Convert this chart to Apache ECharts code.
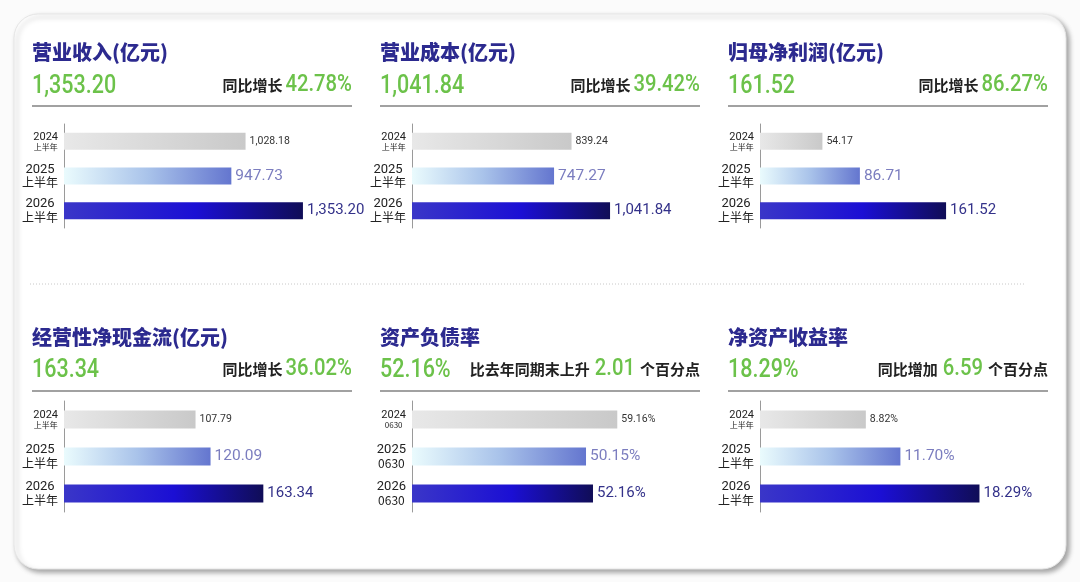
<!DOCTYPE html>
<html>
<head>
<meta charset="utf-8">
<script src="https://cdn.jsdelivr.net/npm/echarts@6/dist/echarts.min.js"></script>
<style>
  html, body { margin: 0; padding: 0; background: #fbfbfb; }
  #main { width: 1080px; height: 582px; }
</style>
</head>
<body>
<div id="main"></div>
<script>
// 数据
var panelTitles = ['营业收入(亿元)', '营业成本(亿元)', '归母净利润(亿元)', '经营性净现金流(亿元)', '资产负债率', '净资产收益率'];
var headline = ['1,353.20', '1,041.84', '161.52', '163.34', '52.16%', '18.29%'];
var changeLead = ['同比增长', '同比增长', '同比增长', '同比增长', '比去年同期末上升', '同比增加'];
var changeValue = ['42.78%', '39.42%', '86.27%', '36.02%', '2.01', '6.59'];
var changeTail = ['', '', '', '', '个百分点', '个百分点'];

var periodsHalf = ['2024\n上半年', '2025\n上半年', '2026\n上半年'];
var periodsDate = ['2024\n0630', '2025\n0630', '2026\n0630'];

var revenue = [1028.18, 947.73, 1353.20];
var cost = [839.24, 747.27, 1041.84];
var netProfit = [54.17, 86.71, 161.52];
var cashFlow = [107.79, 120.09, 163.34];
var debtRatio = [59.16, 50.15, 52.16];
var roe = [8.82, 11.70, 18.29];

var panelValues = [revenue, cost, netProfit, cashFlow, debtRatio, roe];
var panelPeriods = [periodsHalf, periodsHalf, periodsHalf, periodsHalf, periodsDate, periodsHalf];
var isPercent = [false, false, false, false, true, true];
var axisMax = [1631, 1515, 250, 236, 83, 24];

var numFont = "'Roboto', sans-serif";
var cjkFont = "'Noto Sans CJK SC', sans-serif";
var titleColor = '#2c2a8f';
var green = '#6cc24a';

// 布局
var colX = [32, 380, 728];
var panelW = 320;
var rowTitleY = [52, 337];
var rowValueY = [87, 371];
var rowLineY = [106, 391];
var rowGridTop = [124, 401];
var rowGridH = [104, 111];
var numScale = 0.86;

var measureCtx = document.createElement('canvas').getContext('2d');
function textW(font, s) {
  measureCtx.font = font;
  return measureCtx.measureText(s).width;
}

function grad(stops) {
  return new echarts.graphic.LinearGradient(0, 0, 1, 0, stops);
}
var barColors = [
  grad([{offset: 0, color: '#e8e8e8'}, {offset: 1, color: '#c9c9c9'}]),
  grad([{offset: 0, color: '#eafbfd'}, {offset: 0.5, color: '#a9c3ea'}, {offset: 1, color: '#6476cf'}]),
  grad([{offset: 0, color: '#3a36c8'}, {offset: 0.55, color: '#1b0fd4'}, {offset: 1, color: '#100d57'}])
];
var barLabels = [
  {fontSize: 10.5, color: '#333'},
  {fontSize: 15.5, color: '#7b7dbf'},
  {fontSize: 15, color: '#34328a'}
];

function fmt(v, pct) {
  if (pct) return v.toFixed(2) + '%';
  return v.toLocaleString('en-US', {minimumFractionDigits: 2, maximumFractionDigits: 2});
}

var grids = [], xAxes = [], yAxes = [], series = [];
var graphics = [];

// 卡片背景
graphics.push({
  type: 'rect', z: -10,
  shape: {x: 14, y: 14, width: 1052, height: 555, r: 24},
  style: {fill: '#fff', stroke: '#e6e6e6', lineWidth: 1,
    shadowBlur: 5, shadowColor: 'rgba(0,0,0,0.35)', shadowOffsetX: 3, shadowOffsetY: 3}
});
// 分隔虚线
graphics.push({
  type: 'line', z: -5,
  shape: {x1: 30, y1: 284, x2: 1025, y2: 284},
  style: {stroke: '#c8c8c8', lineWidth: 1, lineDash: [1, 2]}
});

var leadFont = 'bold 15px ' + cjkFont;
var pctFont = '500 23px ' + numFont;

for (var p = 0; p < 6; p++) {
  var col = p % 3, row = Math.floor(p / 3);
  var x0 = colX[col];
  var pct = isPercent[p];
  var vy = rowValueY[row];

  // 标题
  graphics.push({
    type: 'text', z: 10, x: x0, y: rowTitleY[row],
    style: {text: panelTitles[p], fill: titleColor, font: '900 20px ' + cjkFont, textVerticalAlign: 'middle'}
  });
  // 主数值
  graphics.push({
    type: 'text', z: 10, x: x0, y: vy, scaleX: numScale,
    style: {text: headline[p], fill: green, font: '500 25px ' + numFont, textVerticalAlign: 'middle'}
  });
  // 同比 (从右往左排)
  var cursor = x0 + panelW;
  if (changeTail[p]) {
    graphics.push({
      type: 'text', z: 10, x: cursor, y: vy - 2,
      style: {text: changeTail[p], fill: '#222', font: leadFont, textAlign: 'right', textVerticalAlign: 'middle'}
    });
    cursor -= textW(leadFont, changeTail[p]) + 5;
  }
  graphics.push({
    type: 'text', z: 10, x: cursor, y: vy - 2, scaleX: 0.88,
    style: {text: changeValue[p], fill: green, font: pctFont, textAlign: 'right', textVerticalAlign: 'middle'}
  });
  cursor -= textW(pctFont, changeValue[p]) * 0.88 + (changeTail[p] ? 5 : 3);
  graphics.push({
    type: 'text', z: 10, x: cursor, y: vy - 2,
    style: {text: changeLead[p], fill: '#222', font: leadFont, textAlign: 'right', textVerticalAlign: 'middle'}
  });
  // 分隔线
  graphics.push({
    type: 'line', z: 10,
    shape: {x1: x0, y1: rowLineY[row], x2: x0 + panelW, y2: rowLineY[row]},
    style: {stroke: '#444', lineWidth: 1.2}
  });

  grids.push({left: x0 + 32, top: rowGridTop[row], width: 288, height: rowGridH[row]});
  xAxes.push({
    type: 'value', gridIndex: p, min: 0, max: axisMax[p],
    show: false
  });
  yAxes.push({
    type: 'category', gridIndex: p, inverse: true,
    data: panelPeriods[p],
    axisLine: {lineStyle: {color: '#9a9a9a', width: 1}},
    axisTick: {show: false},
    axisLabel: {
      margin: 6,
      formatter: function (val, idx) {
        var parts = val.split('\n');
        var k = idx === 0 ? '0' : '1';
        return '{y' + k + '|' + parts[0] + '}\n{s' + k + '|' + parts[1] + '}';
      },
      rich: {
        y0: {fontSize: 11, color: '#222', fontFamily: numFont, align: 'center', lineHeight: 11},
        s0: {fontSize: 8, color: '#222', fontFamily: cjkFont, align: 'center', lineHeight: 9},
        y1: {fontSize: 13, color: '#222', fontFamily: numFont, align: 'center', lineHeight: 13},
        s1: {fontSize: 12, color: '#222', fontFamily: cjkFont, align: 'center', lineHeight: 13}
      }
    }
  });
  series.push({
    type: 'bar', xAxisIndex: p, yAxisIndex: p,
    barWidth: row === 0 ? 17 : 18,
    silent: true,
    data: panelValues[p].map(function (v, i) {
      return {
        value: v,
        itemStyle: {color: barColors[i]},
        label: {
          show: true, position: 'right', distance: 4,
          fontFamily: numFont, fontSize: barLabels[i].fontSize, color: barLabels[i].color,
          formatter: (function (pc) { return function (d) { return fmt(d.value, pc); }; })(pct)
        }
      };
    })
  });
}

var chart = echarts.init(document.getElementById('main'));
chart.setOption({
  animation: false,
  backgroundColor: '#fbfbfb',
  grid: grids,
  xAxis: xAxes,
  yAxis: yAxes,
  series: series,
  graphic: graphics
});
</script>
</body>
</html>
